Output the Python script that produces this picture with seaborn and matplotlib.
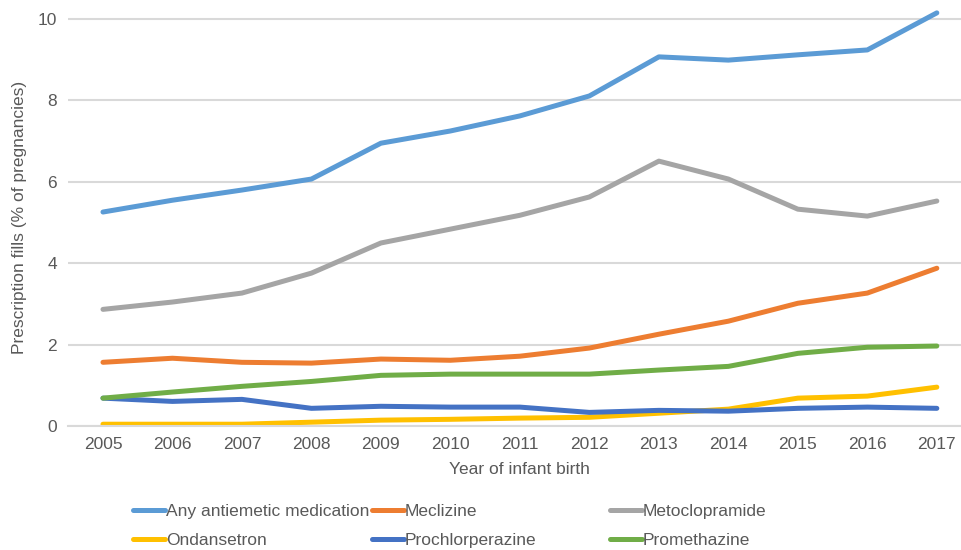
import pandas as pd
import numpy as np
import matplotlib.pyplot as plt
import seaborn as sns

years = list(range(2005, 2018))

any_antiemetic = [5.26, 5.55, 5.80, 6.07, 6.95, 7.25, 7.62, 8.11, 9.07, 8.99, 9.12, 9.24, 10.15]
meclizine = [1.57, 1.67, 1.57, 1.55, 1.65, 1.62, 1.72, 1.92, 2.26, 2.58, 3.02, 3.27, 3.88]
metoclopramide = [2.87, 3.05, 3.27, 3.76, 4.50, 4.84, 5.18, 5.63, 6.51, 6.07, 5.33, 5.16, 5.53]
ondansetron = [0.05, 0.05, 0.05, 0.10, 0.15, 0.17, 0.20, 0.22, 0.32, 0.42, 0.69, 0.74, 0.96]
prochlorperazine = [0.69, 0.61, 0.66, 0.44, 0.49, 0.47, 0.47, 0.34, 0.39, 0.37, 0.44, 0.47, 0.44]
promethazine = [0.69, 0.84, 0.98, 1.10, 1.25, 1.28, 1.28, 1.28, 1.38, 1.47, 1.79, 1.94, 1.97]

names = ["Any antiemetic medication", "Meclizine", "Metoclopramide",
         "Ondansetron", "Prochlorperazine", "Promethazine"]
series = [any_antiemetic, meclizine, metoclopramide, ondansetron, prochlorperazine, promethazine]
colors = ["#5B9BD5", "#ED7D31", "#A5A5A5", "#FFC000", "#4472C4", "#70AD47"]

# long format for seaborn
df = pd.DataFrame({
    "Year": np.tile(years, len(names)),
    "Value": np.concatenate(series),
    "Drug": np.repeat(names, len(years)),
})

sns.set_style("white")
plt.rcParams['font.family'] = ['Liberation Sans', 'DejaVu Sans']
txt = "#595959"

fig = plt.figure(figsize=(9.61, 5.5), dpi=100)
ax = fig.add_axes([0.071, 0.225, 0.94, 0.759])

sns.lineplot(data=df, x="Year", y="Value", hue="Drug", hue_order=names,
             palette=colors, linewidth=3.6, ax=ax, legend=False)
for ln in ax.lines:
    ln.set_solid_capstyle("round")
    ln.set_solid_joinstyle("round")

ax.set_xlim(2004.5, 2017.5)
ax.set_ylim(0, 10.25)
ax.set_xticks(years)
ax.set_xticklabels([str(y) for y in years])
ax.set_yticks([0, 2, 4, 6, 8, 10])
ax.yaxis.grid(True, color="#D9D9D9", linewidth=1.5)
ax.set_axisbelow(True)
for s in ["top", "right", "left"]:
    ax.spines[s].set_visible(False)
ax.spines["bottom"].set_color("#D9D9D9")
ax.spines["bottom"].set_linewidth(1.5)
ax.tick_params(axis="both", length=0, labelsize=12.5, colors=txt, pad=8)
ax.set_xlabel("Year of infant birth", fontsize=12.5, color=txt, labelpad=7)
ax.set_ylabel("Prescription fills (% of pregnancies)", fontsize=12.5, color=txt, labelpad=8)

# legend: three columns, placed like the Excel one
handles = [plt.Line2D([], [], color=c, linewidth=3.6, solid_capstyle="round") for c in colors]
col_x = [133 / 961, 372 / 961, 610 / 961]
for k, x0 in enumerate(col_x):
    idx = [k, k + 3]
    leg = fig.legend([handles[i] for i in idx], [names[i] for i in idx],
                     loc="upper left", bbox_to_anchor=(x0, 1 - 504 / 550),
                     frameon=False, fontsize=12.5, handlelength=1.85,
                     handletextpad=0.05, labelspacing=0.78,
                     borderpad=0, borderaxespad=0)
    for t in leg.get_texts():
        t.set_color(txt)

fig.savefig("out.png", dpi=100)
